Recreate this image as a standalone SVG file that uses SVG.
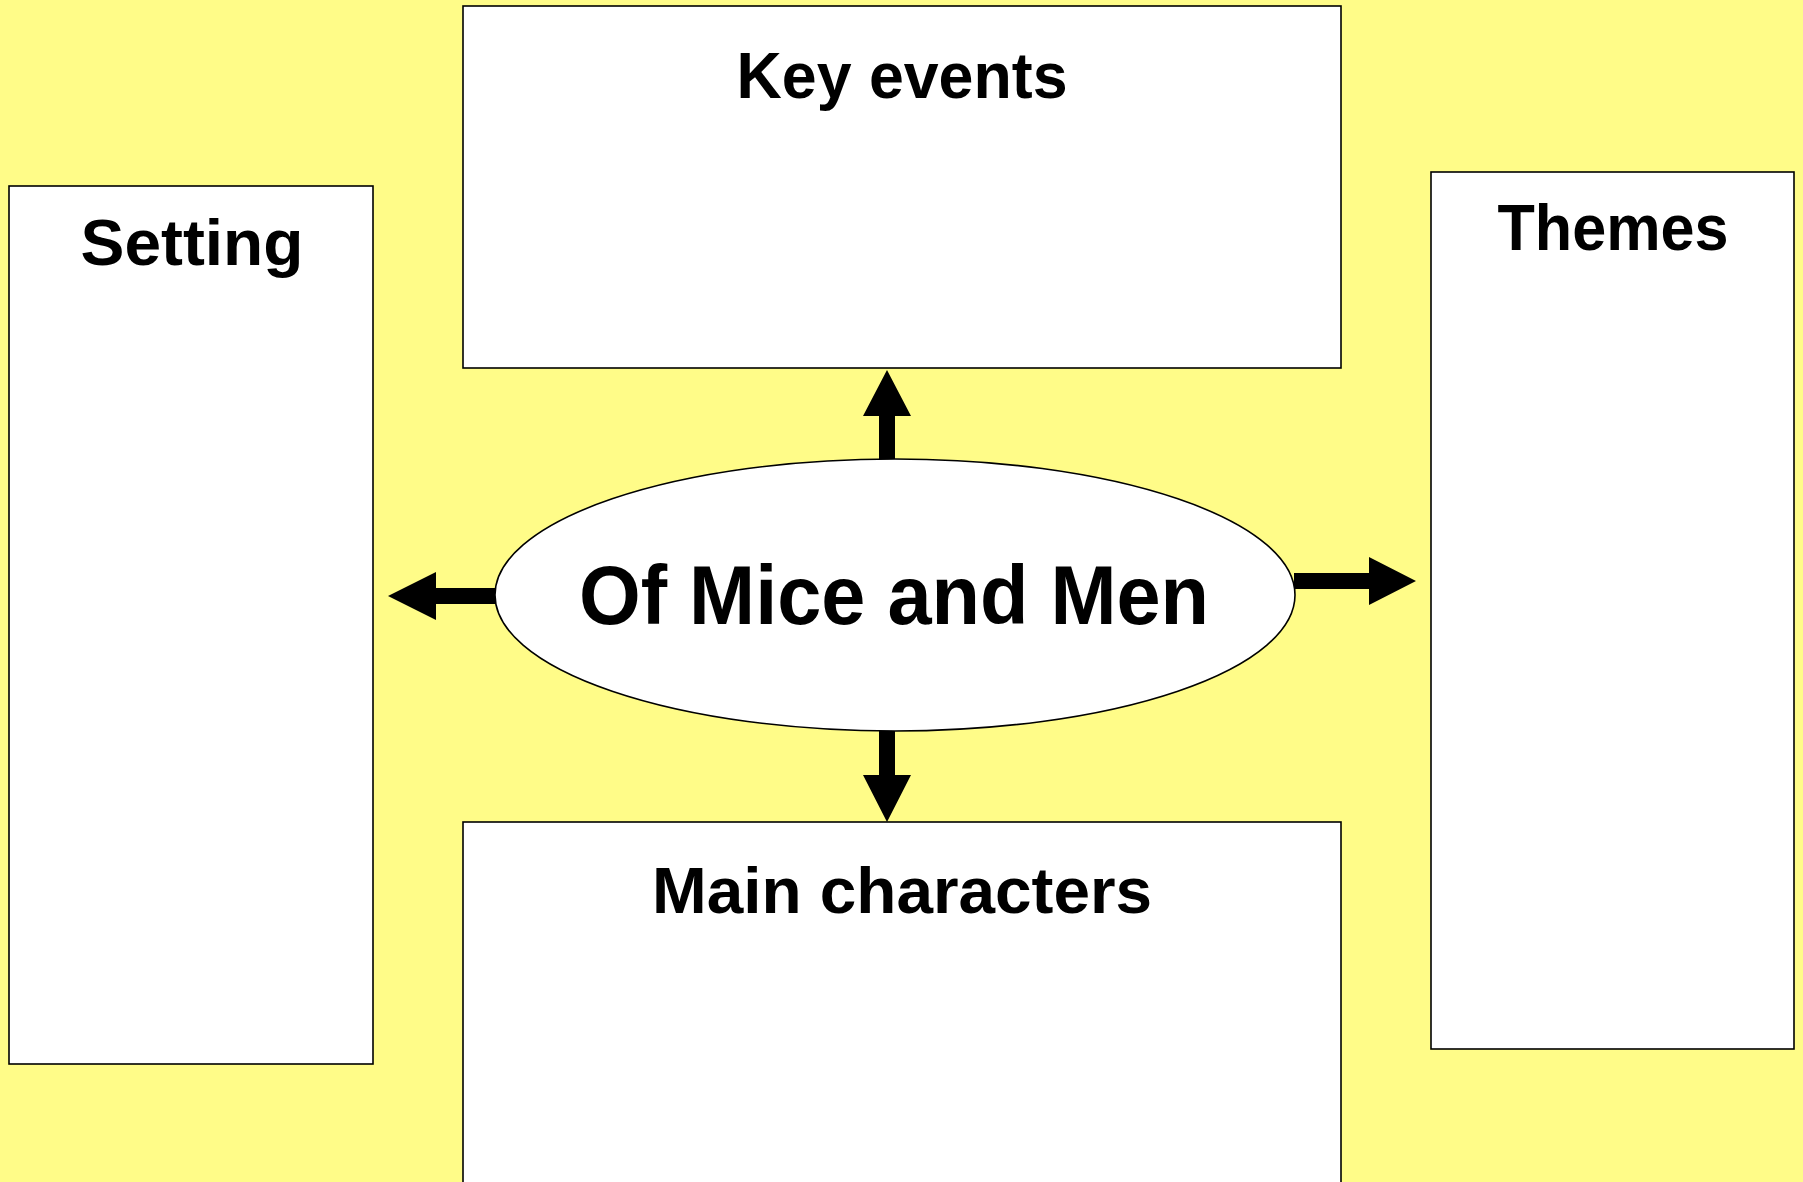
<svg xmlns="http://www.w3.org/2000/svg" width="1803" height="1182" viewBox="0 0 1803 1182">
<style>
.box{fill:#ffffff;stroke:#000000;stroke-width:1.6}
.lbl{font-family:"Comic Sans MS","Liberation Sans","DejaVu Sans",sans-serif;font-weight:bold;fill:#000000;text-anchor:middle}
.arr{fill:#000000;stroke:none}
</style>
<rect x="0" y="0" width="1803" height="1182" fill="#fffc88"/>
<g id="key-events">
<rect class="box" x="463" y="6" width="878" height="362"/>
<text class="lbl" x="902" y="98" font-size="64" textLength="331" lengthAdjust="spacingAndGlyphs">Key events</text>
</g>
<g id="setting">
<rect class="box" x="9" y="186" width="364" height="878"/>
<text class="lbl" x="192" y="265" font-size="64" textLength="223" lengthAdjust="spacingAndGlyphs">Setting</text>
</g>
<g id="themes">
<rect class="box" x="1431" y="172" width="363" height="877"/>
<text class="lbl" x="1613" y="250" font-size="64" textLength="231" lengthAdjust="spacingAndGlyphs">Themes</text>
</g>
<g id="main-characters">
<rect class="box" x="463" y="822" width="878" height="380"/>
<text class="lbl" x="902" y="913" font-size="64" textLength="500" lengthAdjust="spacingAndGlyphs">Main characters</text>
</g>
<g id="connectors">
<polygon class="arr" points="879,461 879,416 863,416 887,370 911,416 895,416 895,461"/>
<polygon class="arr" points="879,730 879,775 863,775 887,822 911,775 895,775 895,730"/>
<polygon class="arr" points="495,588 436,588 436,572 388,596 436,620 436,604 495,604"/>
<polygon class="arr" points="1294,573 1369,573 1369,557 1416,581 1369,605 1369,589 1294,589"/>
</g>
<g id="center">
<ellipse class="box" cx="895" cy="595" rx="400" ry="136"/>
<text class="lbl" x="894" y="624" font-size="84" textLength="630" lengthAdjust="spacingAndGlyphs">Of Mice and Men</text>
</g>
</svg>
